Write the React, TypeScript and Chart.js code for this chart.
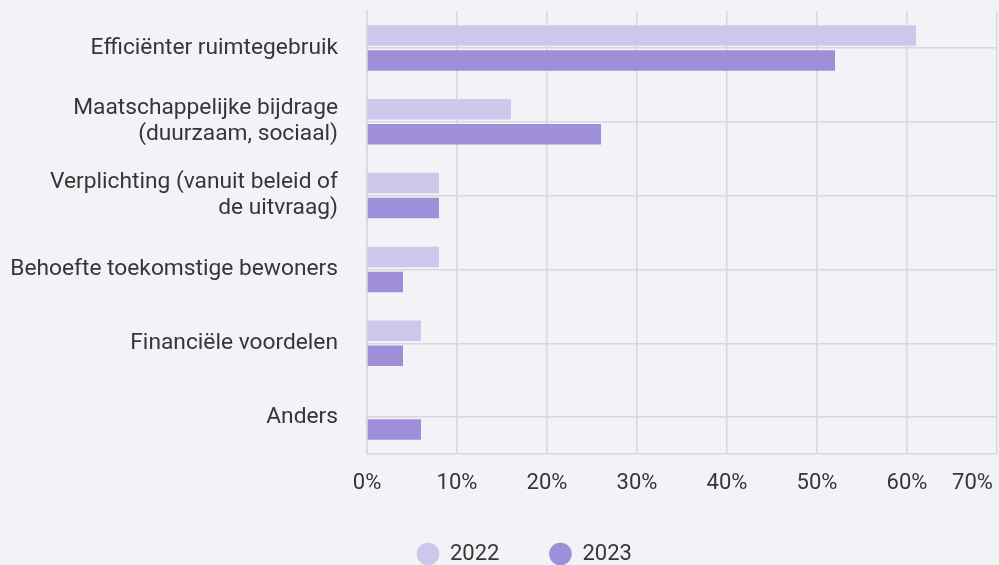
import React, { useEffect, useRef } from "react";
import { Chart, registerables } from "chart.js";

Chart.register(...registerables);

const categories: (string | string[])[] = [
  "Efficiënter ruimtegebruik",
  ["Maatschappelijke bijdrage", "(duurzaam, sociaal)"],
  ["Verplichting (vanuit beleid of", "de uitvraag)"],
  "Behoefte toekomstige bewoners",
  "Financiële voordelen",
  "Anders",
];
const values2022 = [61, 16, 8, 8, 6, 0];
const values2023 = [52, 26, 8, 4, 4, 6];
const seriesLabels = ["2022", "2023"];
const xTickMax = 70;
const xTickStep = 10;

const BG = "#f1f3f7";
const GRID = "#d4d7de";
const TEXT = "#363636";
const C2022 = "#cec7eb";
const C2023 = "#9f8ed8";
const FONT = "Roboto, 'Noto Sans', sans-serif";

export default function App() {
  const ref = useRef<HTMLCanvasElement | null>(null);

  useEffect(() => {
    if (!ref.current) return;
    const chart = new Chart(ref.current, {
      type: "bar",
      data: {
        labels: categories,
        datasets: [
          {
            label: seriesLabels[0],
            data: values2022,
            backgroundColor: C2022,
            borderWidth: 0,
            barPercentage: 0.82,
            categoryPercentage: 0.676,
          },
          {
            label: seriesLabels[1],
            data: values2023,
            backgroundColor: C2023,
            borderWidth: 0,
            barPercentage: 0.82,
            categoryPercentage: 0.676,
          },
        ],
      },
      options: {
        indexAxis: "y",
        animation: false,
        responsive: true,
        maintainAspectRatio: false,
        layout: { padding: { top: 11, right: 2, left: 0, bottom: -10 } },
        scales: {
          x: {
            min: 0,
            max: xTickMax,
            ticks: {
              stepSize: xTickStep,
              autoSkip: false,
              color: TEXT,
              padding: 16,
              maxRotation: 0,
              font: { family: FONT, size: 22 },
              callback: (v: any) =>
                Number(v) === xTickMax ? v + "%         " : v + "%",
            },
            grid: { color: GRID, lineWidth: 1.5, drawTicks: false },
            border: { color: GRID, width: 1.5 },
            afterFit: (scale: any) => {
              scale.paddingRight = 0;
              scale.height = 39;
            },
          },
          y: {
            ticks: {
              color: TEXT,
              padding: 29,
              autoSkip: false,
              font: { family: FONT, size: 22.75, lineHeight: 1.14 },
            },
            grid: { color: GRID, lineWidth: 1.5, drawTicks: false, offset: false },
            border: { color: GRID, width: 1.5 },
            afterFit: (scale: any) => {
              scale.paddingTop = 0;
              scale.paddingBottom = 0;
              scale.width = 367;
            },
          },
        },
        plugins: {
          legend: {
            position: "bottom",
            align: "start",
            fullSize: false,
            labels: {
              usePointStyle: true,
              pointStyle: "circle",
              boxWidth: 22,
              boxHeight: 16,
              padding: 50,
              color: TEXT,
              font: { family: FONT, size: 22 },
            },
          },
          tooltip: { enabled: false },
        },
      },
    });
    return () => chart.destroy();
  }, []);

  return (
    <div
      style={{
        position: "fixed",
        left: 0,
        top: 0,
        width: 999,
        height: 565,
        background: BG,
      }}
    >
      <canvas ref={ref} />
    </div>
  );
}
